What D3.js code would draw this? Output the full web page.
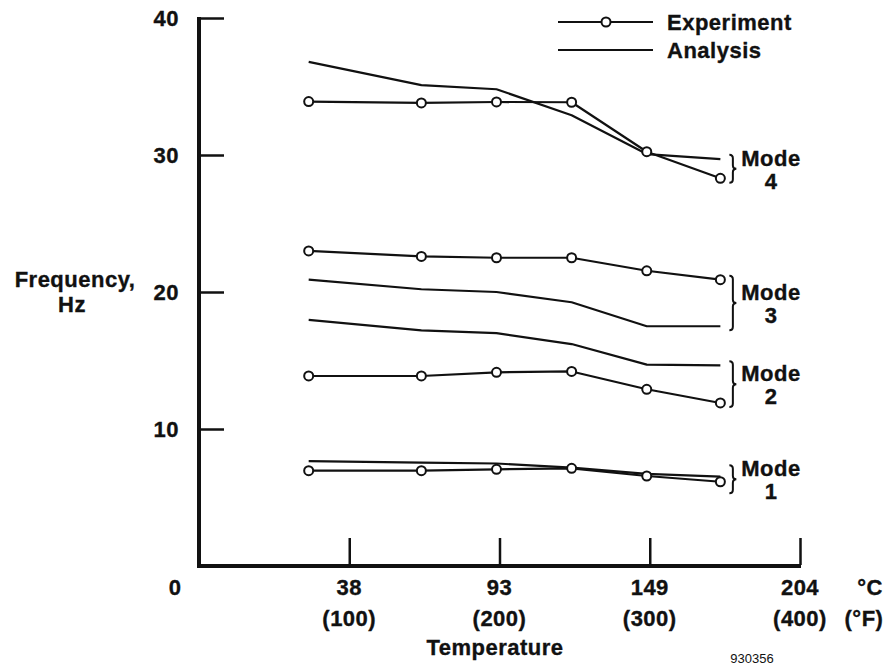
<!DOCTYPE html>
<html>
<head>
<meta charset="utf-8">
<script src="https://cdn.jsdelivr.net/npm/d3@7"></script>
<style>
  html, body { margin: 0; padding: 0; background: #fff; }
  svg text { font-family: "Liberation Sans", Arial, Helvetica, sans-serif; font-weight: bold; fill: #111; }
  svg .heavy text { stroke: #111; stroke-width: 0.35px; }
</style>
</head>
<body>
<svg width="890" height="666"></svg>
<script>
// temperatures of the measured points, deg F
var tempsF = [73, 148, 198, 248, 298, 347];

// frequency, Hz
var exp1 = [6.96, 6.96, 7.06, 7.13, 6.57, 6.15];
var ana1 = [7.66, 7.55, 7.48, 7.18, 6.72, 6.52];
var exp2 = [13.87, 13.87, 14.14, 14.2, 12.9, 11.9];
var ana2 = [17.96, 17.2, 17.0, 16.2, 14.7, 14.65];
var exp3 = [23.0, 22.6, 22.5, 22.5, 21.55, 20.9];
var ana3 = [20.9, 20.2, 20.0, 19.25, 17.5, 17.5];
var exp4 = [33.9, 33.8, 33.87, 33.85, 30.24, 28.3];
var ana4 = [36.8, 35.1, 34.8, 32.9, 30.07, 29.7];

var modeNames = ["1", "2", "3", "4"];

// axis ticks
var xTicksF = [100, 200, 300, 400];
var xTicksC = ["38", "93", "149", "204"];
var yTicks = [10, 20, 30, 40];

;(function(){

    var svg = d3.select("svg");

    var x = d3.scaleLinear()
        .domain([0, 400])
        .range([199, 800]);

    var y = d3.scaleLinear()
        .domain([0, 40])
        .range([566, 18]);

    // y axis, ticks pointing inward
    var yAxis = d3.axisLeft(y)
        .tickValues(yTicks)
        .tickSizeInner(-25)
        .tickSizeOuter(0)
        .tickPadding(20);

    var gy = svg.append("g")
        .attr("class", "heavy")
        .attr("transform", "translate(" + x(0) + ",0)")
        .call(yAxis);
    gy.select(".domain").attr("stroke", "#111").attr("stroke-width", 4)
        .attr("d", "M0," + (y(0) + 2) + "V" + (y(40) - 1));
    gy.selectAll(".tick line").attr("stroke", "#111").attr("stroke-width", 2.5).attr("x1", 1);
    gy.selectAll(".tick text")
        .attr("font-size", 22)
        .attr("font-family", null)
        .style("letter-spacing", "0.5px")
        .attr("fill", "#111");

    // x axis, ticks pointing up
    var xAxis = d3.axisBottom(x)
        .tickValues(xTicksF)
        .tickSizeInner(-28)
        .tickSizeOuter(0)
        .tickFormat("");

    var gx = svg.append("g")
        .attr("transform", "translate(0," + y(0) + ")")
        .call(xAxis);
    gx.select(".domain").attr("stroke", "#111").attr("stroke-width", 4)
        .attr("d", "M" + (x(0) - 2) + ",0H" + (x(400) + 1));
    gx.selectAll(".tick line").attr("stroke", "#111").attr("stroke-width", 2.5).attr("y1", -1);

    var labels = svg.append("g").attr("class", "heavy").attr("font-size", 22).style("letter-spacing", "0.5px");

    labels.selectAll(".lab-c")
        .data(xTicksF)
        .enter().append("text")
        .attr("class", "lab-c")
        .attr("x", function(d){ return x(d); })
        .attr("y", 595)
        .attr("text-anchor", "middle")
        .text(function(d, i){ return xTicksC[i]; });

    labels.selectAll(".lab-f")
        .data(xTicksF)
        .enter().append("text")
        .attr("class", "lab-f")
        .attr("x", function(d){ return x(d); })
        .attr("y", 626)
        .attr("text-anchor", "middle")
        .text(function(d){ return "(" + d + ")"; });

    labels.append("text").attr("x", x(0) - 24).attr("y", 595).attr("text-anchor", "middle").text("0");
    labels.append("text").attr("x", 870).attr("y", 595).attr("text-anchor", "middle").text("°C");
    labels.append("text").attr("x", 864).attr("y", 626).attr("text-anchor", "middle").text("(°F)");
    labels.append("text").attr("x", 495).attr("y", 655).attr("text-anchor", "middle").text("Temperature");
    labels.append("text").attr("x", 75).attr("y", 287).attr("text-anchor", "middle").text("Frequency,");
    labels.append("text").attr("x", 72).attr("y", 312).attr("text-anchor", "middle").text("Hz");

    // figure number
    svg.append("text")
        .attr("x", 752).attr("y", 663)
        .attr("text-anchor", "middle")
        .attr("font-size", 13)
        .style("font-weight", "normal")
        .text("930356");

    var line = d3.line()
        .x(function(d, i){ return x(tempsF[i]); })
        .y(function(d){ return y(d); });

    var modes = [[exp1, ana1], [exp2, ana2], [exp3, ana3], [exp4, ana4]];

    modes.forEach(function(m, k){
        // analysis
        svg.append("path")
            .datum(m[1])
            .attr("fill", "none")
            .attr("stroke", "#111")
            .attr("stroke-width", 2.2)
            .attr("stroke-linejoin", "round")
            .attr("d", line);

        // experiment
        svg.append("path")
            .datum(m[0])
            .attr("fill", "none")
            .attr("stroke", "#111")
            .attr("stroke-width", 2.2)
            .attr("stroke-linejoin", "round")
            .attr("d", line);

        svg.selectAll(".pt-" + k)
            .data(m[0])
            .enter().append("circle")
            .attr("class", "pt-" + k)
            .attr("cx", function(d, i){ return x(tempsF[i]); })
            .attr("cy", function(d){ return y(d); })
            .attr("r", 4.5)
            .attr("fill", "#fff")
            .attr("stroke", "#111")
            .attr("stroke-width", 2);

        // brace round the last pair + mode label
        var last = tempsF.length - 1;
        var y0 = Math.min(y(m[0][last]), y(m[1][last])) - 4;
        var y1 = Math.max(y(m[0][last]), y(m[1][last])) + 4;
        if (y1 - y0 < 28) { var c = (y0 + y1) / 2; y0 = c - 14; y1 = c + 14; }
        var bx = x(tempsF[last]) + 9, w = 7, ym = (y0 + y1) / 2;

        svg.append("path")
            .attr("fill", "none")
            .attr("stroke", "#111")
            .attr("stroke-width", 2)
            .attr("d", "M" + bx + "," + y0 +
                "Q" + (bx + w / 2) + "," + y0 + " " + (bx + w / 2) + "," + (y0 + w / 2) +
                "L" + (bx + w / 2) + "," + (ym - w / 2) +
                "Q" + (bx + w / 2) + "," + ym + " " + (bx + w) + "," + ym +
                "Q" + (bx + w / 2) + "," + ym + " " + (bx + w / 2) + "," + (ym + w / 2) +
                "L" + (bx + w / 2) + "," + (y1 - w / 2) +
                "Q" + (bx + w / 2) + "," + y1 + " " + bx + "," + y1);

        labels.append("text").attr("x", 771).attr("y", ym - 3).attr("text-anchor", "middle").text("Mode");
        labels.append("text").attr("x", 771).attr("y", ym + 20).attr("text-anchor", "middle").text(modeNames[k]);
    });

    // legend
    var legend = svg.append("g");
    legend.append("line").attr("x1", 558).attr("x2", 653).attr("y1", 22).attr("y2", 22)
        .attr("stroke", "#111").attr("stroke-width", 2.2);
    legend.append("circle").attr("cx", 606).attr("cy", 22).attr("r", 4.5)
        .attr("fill", "#fff").attr("stroke", "#111").attr("stroke-width", 2);
    legend.append("line").attr("x1", 558).attr("x2", 653).attr("y1", 50).attr("y2", 50)
        .attr("stroke", "#111").attr("stroke-width", 2.2);
    labels.append("text").attr("x", 667).attr("y", 30).text("Experiment");
    labels.append("text").attr("x", 667).attr("y", 58).text("Analysis");

}());
</script>
</body>
</html>
